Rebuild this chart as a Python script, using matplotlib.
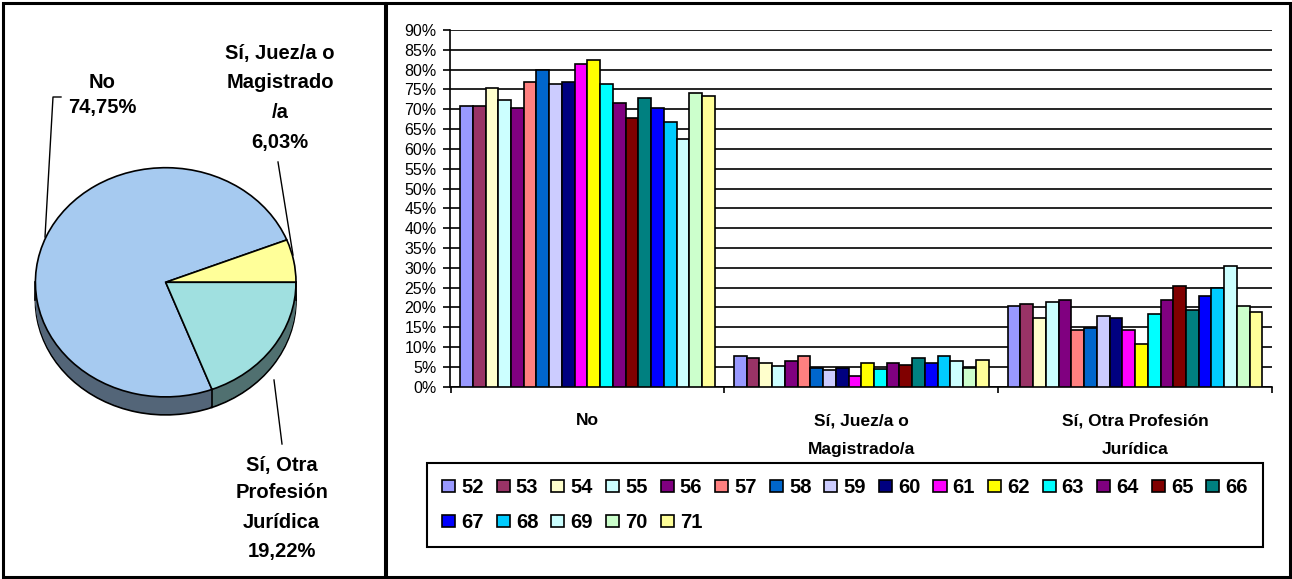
import matplotlib
matplotlib.use("Agg")
import matplotlib.pyplot as plt
import matplotlib.patches as mpatches
from matplotlib.lines import Line2D
import numpy as np

plt.rcParams["font.family"] = ["Liberation Sans", "DejaVu Sans"]

# ---- data -------------------------------------------------------------
pie_labels = ["No", "Sí, Juez/a o\nMagistrado\n/a", "Sí, Otra\nProfesión\nJurídica"]
pie_values = [74.75, 6.03, 19.22]
pie_colors = ["#A6CAF0", "#FFFF99", "#A0E0E0"]

categories = ["No", "Sí, Juez/a o\nMagistrado/a", "Sí, Otra Profesión\nJurídica"]
years = ["52", "53", "54", "55", "56", "57", "58", "59", "60", "61",
         "62", "63", "64", "65", "66", "67", "68", "69", "70", "71"]
no_vals   = [70.9, 70.9, 75.4, 72.4, 70.4, 76.9, 79.9, 76.4, 76.9, 81.4,
             82.4, 76.4, 71.5, 67.9, 72.9, 70.4, 66.9, 62.4, 74.0, 73.4]
juez_vals = [7.8, 7.3, 5.9, 5.3, 6.5, 7.8, 4.6, 4.3, 4.8, 2.8,
             5.9, 4.5, 6.0, 5.4, 7.3, 5.9, 7.8, 6.5, 4.8, 6.8]
otra_vals = [20.3, 20.8, 17.3, 21.4, 21.8, 14.3, 14.8, 17.8, 17.3, 14.3,
             10.8, 18.3, 21.8, 25.3, 19.3, 22.8, 24.8, 30.4, 20.3, 18.9]
year_colors = ["#9999FF", "#993366", "#FFFFCC", "#CCFFFF", "#800080",
               "#FF8080", "#0066CC", "#CCCCFF", "#000080", "#FF00FF",
               "#FFFF00", "#00FFFF", "#800080", "#800000", "#008080",
               "#0000FF", "#00CCFF", "#CCFFFF", "#CCFFCC", "#FFFF99"]

W, H = 1292, 579


def fx(px):
    return px / W


def fy(py):
    # image y (top-down) -> figure fraction
    return 1 - py / H


def fig_line(xs, ys, lw=1.0):
    fig.add_artist(Line2D([fx(x) for x in xs], [fy(y) for y in ys],
                          transform=fig.transFigure, color="black", lw=lw))


fig = plt.figure(figsize=(W / 100, H / 100), dpi=100)
fig.patch.set_facecolor("white")

# panel frames
for x0, x1 in [(3, 385), (386, 1290)]:
    fig.add_artist(mpatches.Rectangle((fx(x0), fy(577)), fx(x1) - fx(x0), fy(3) - fy(577),
                                      transform=fig.transFigure, fill=False,
                                      lw=2.2, ec="black"))

# ---- 3D-looking pie -----------------------------------------------------
cx, cy, rx, ry = 165.7, 282.3, 130.3, 114.6
bl, br, bt, bb = 20, 330, 150, 430
pax = fig.add_axes([fx(bl), fy(bb), (br - bl) / W, (bb - bt) / H])

total = sum(pie_values)
start = 360 * (1 - pie_values[2] / total)
side_colors = [tuple(0.5 * c for c in matplotlib.colors.to_rgb(col)) for col in pie_colors]
depth = 18 / ry

offsets = np.linspace(depth, 0, 14)[:-1]
for k, off in enumerate(offsets):
    pax.pie(pie_values, colors=side_colors, startangle=start, counterclock=False,
            center=(0, -off), radius=1,
            wedgeprops=dict(linewidth=1.2 if k == 0 else 0, edgecolor="black"))
pax.pie(pie_values, colors=pie_colors, startangle=start, counterclock=False,
        center=(0, 0), radius=1, wedgeprops=dict(linewidth=1.2, edgecolor="black"))

ang = np.deg2rad(start)
for xe, ye in [(np.cos(ang), np.sin(ang)), (-1, 0), (1, 0)]:
    pax.plot([xe, xe], [ye, ye - depth], color="black", lw=1.2)

pax.set_aspect("auto")
pax.set_xlim((bl - cx) / rx, (br - cx) / rx)
pax.set_ylim((cy - bb) / ry, (cy - bt) / ry)
pax.axis("off")

pct = [f"{v:.2f}%".replace(".", ",") for v in pie_values]
label_spots = [
    (102, [83, 108]),
    (280, [53, 83, 113, 142]),
    (281.7, [465, 493, 523, 552]),
]
for (x, ys), name, p in zip(label_spots, pie_labels, pct):
    lines = name.split("\n") + [p]
    for line, y in zip(lines, ys):
        fig.text(fx(x), fy(y), line, ha="center", va="center",
                 fontsize=14.5, fontweight="bold")

# leader lines
fig_line([61, 53, 45], [97, 97, 237])
fig_line([278, 293], [162, 255])
fig_line([274, 282], [380, 444])

# ---- grouped bars -------------------------------------------------------
bax = fig.add_axes([fx(450.5), fy(386.7), (1272 - 450.5) / W, (386.7 - 30) / H])
n = len(years)
bw = 0.93 / n
xc = np.arange(len(categories))
for j, yr in enumerate(years):
    heights = [no_vals[j], juez_vals[j], otra_vals[j]]
    bax.bar(xc + (j - (n - 1) / 2) * bw, heights, width=bw, color=year_colors[j],
            edgecolor="black", linewidth=1.2, label=yr, zorder=3)

bax.set_ylim(0, 90)
bax.set_yticks(range(0, 91, 5))
bax.set_yticklabels([f"{v}%" for v in range(0, 91, 5)])
bax.yaxis.grid(True, color="black", lw=1.2)
bax.set_axisbelow(True)
bax.tick_params(axis="y", direction="out", length=5, width=1.2, labelsize=11.5, pad=5)

bax.set_xlim(-0.5, len(categories) - 0.5)
bax.set_xticks(np.arange(len(categories) + 1) - 0.5)
bax.set_xticklabels([])
bax.set_xticks(xc, minor=True)
bax.set_xticklabels(categories, minor=True, fontsize=12.5, fontweight="bold",
                    linespacing=2.15)
bax.tick_params(axis="x", which="major", direction="out", length=4.5, width=1.2)
bax.tick_params(axis="x", which="minor", length=0, pad=19)

for side in ["top", "right"]:
    bax.spines[side].set_visible(False)
for side in ["left", "bottom"]:
    bax.spines[side].set_linewidth(1.2)
    bax.spines[side].set_color("black")

# legend: fill columns so it reads row by row
handles, labels = bax.get_legend_handles_labels()
ncol = 15
order = []
for c in range(ncol):
    order.append(c)
    if c + ncol < n:
        order.append(c + ncol)
leg = fig.legend([handles[i] for i in order], [labels[i] for i in order],
                 ncol=ncol, loc="upper left", mode="expand",
                 bbox_to_anchor=(fx(427), fy(541), (1263 - 427) / W, (541 - 463) / H),
                 bbox_transform=fig.transFigure, borderaxespad=0,
                 prop={"weight": "bold", "size": 14.5},
                 handlelength=0.65, handleheight=0.55, handletextpad=0.3,
                 borderpad=0.75, labelspacing=0.8, fancybox=False, framealpha=1)
leg.get_frame().set_edgecolor("black")
leg.get_frame().set_linewidth(1.5)

fig.savefig("out.png", dpi=100)
